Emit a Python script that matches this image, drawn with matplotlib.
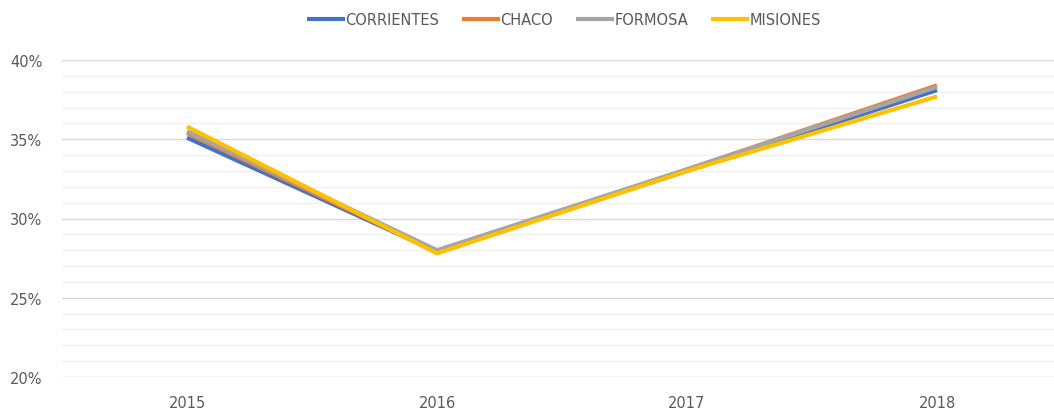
import matplotlib
matplotlib.use("Agg")
import matplotlib.pyplot as plt
from matplotlib.ticker import MultipleLocator, PercentFormatter

years = ["2015", "2016", "2017", "2018"]
corrientes = [35.1, 27.9, 33.0, 38.1]
chaco = [35.4, 27.9, 33.1, 38.4]
formosa = [35.5, 28.0, 33.1, 38.3]
misiones = [35.8, 27.8, 33.0, 37.7]

series = [
    ("CORRIENTES", corrientes, "#4472c4"),
    ("CHACO", chaco, "#ed7d31"),
    ("FORMOSA", formosa, "#a5a5a5"),
    ("MISIONES", misiones, "#ffc000"),
]

fig = plt.figure(figsize=(10.54, 4.10), dpi=100)
ax = fig.add_axes([62 / 1054, 32 / 410, 1000 / 1054, 317 / 410])

x = list(range(len(years)))
for name, vals, col in series:
    ax.plot(x, vals, color=col, lw=3.0, label=name, solid_capstyle="butt")

ax.set_xlim(-0.5, 3.5)
ax.set_ylim(20, 40)
ax.yaxis.set_major_locator(MultipleLocator(5))
ax.yaxis.set_minor_locator(MultipleLocator(1))
ax.yaxis.set_major_formatter(PercentFormatter(decimals=0))
ax.set_xticks(x)
ax.set_xticklabels(years)
ax.grid(True, axis="y", which="major", color="#d9d9d9", lw=1)
ax.grid(True, axis="y", which="minor", color="#f0f0f0", lw=1)
ax.set_axisbelow(True)
for s in ax.spines.values():
    s.set_visible(False)
ax.tick_params(axis="both", which="both", length=0, labelsize=10.5, labelcolor="#595959")
ax.tick_params(axis="y", pad=14)
ax.tick_params(axis="x", pad=13)

fig.legend(loc="upper center", bbox_to_anchor=(0.535, 1.0), ncol=4, frameon=False,
           fontsize=10.5, handlelength=2.6, handletextpad=0.0, columnspacing=1.6,
           labelcolor="#595959")

fig.savefig("out.png", dpi=100)
